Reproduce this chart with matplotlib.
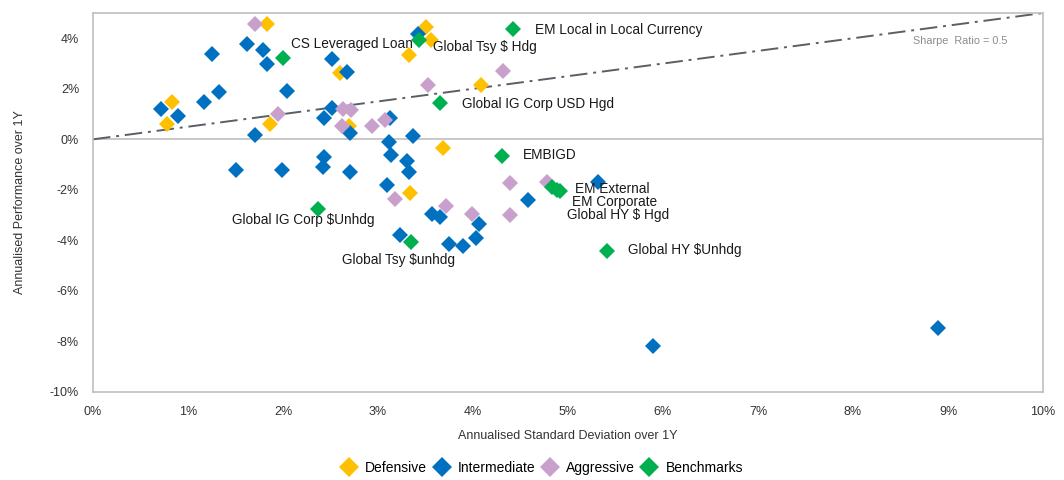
import matplotlib
matplotlib.use("Agg")
import matplotlib.pyplot as plt
from matplotlib.lines import Line2D
from matplotlib.ticker import FuncFormatter, MultipleLocator

plt.rcParams['font.family'] = ['Liberation Sans', 'DejaVu Sans']

# Annualised std dev (%) and annualised performance (%) over 1Y
defensive_x = [1.83, 0.83, 0.78, 1.86, 2.60, 3.51, 3.56, 3.33, 4.08, 2.69, 3.68, 3.34]
defensive_y = [4.56, 1.49, 0.61, 0.60, 2.62, 4.46, 3.93, 3.34, 2.15, 0.53, -0.33, -2.13]

intermediate_x = [1.62, 1.79, 1.83, 1.25, 1.33, 1.17, 0.72, 0.89, 2.04, 1.71, 2.52, 2.43,
                  2.52, 3.42, 2.67, 2.71, 3.13, 3.12, 3.37, 1.51, 1.99, 2.43, 2.42, 3.14,
                  3.31, 3.33, 2.71, 3.09, 3.57, 3.65, 4.06, 3.23, 3.75, 3.89, 4.03, 4.58,
                  5.32, 5.89, 8.89]
intermediate_y = [3.76, 3.54, 2.98, 3.37, 1.89, 1.49, 1.22, 0.93, 1.93, 0.17, 3.19, 0.84,
                  1.23, 4.17, 2.68, 0.25, 0.84, -0.09, 0.14, -1.21, -1.21, -0.70, -1.10, -0.61,
                  -0.85, -1.30, -1.30, -1.80, -2.94, -3.08, -3.34, -3.77, -4.13, -4.24, -3.91, -2.39,
                  -1.67, -8.19, -7.46]

aggressive_x = [1.71, 1.95, 4.32, 3.53, 2.63, 2.72, 2.62, 2.94, 3.07, 3.18, 3.72, 3.99,
                4.39, 4.39, 4.78]
aggressive_y = [4.56, 1.00, 2.71, 2.15, 1.19, 1.17, 0.51, 0.51, 0.77, -2.36, -2.63, -2.94,
                -1.73, -2.98, -1.67]

benchmark_names = ["CS Leveraged Loan", "Global Tsy $ Hdg", "EM Local in Local Currency",
                   "Global IG Corp USD Hgd", "Global IG Corp $Unhdg", "EMBIGD",
                   "Global Tsy $unhdg", "EM External", "EM Corporate", "Global HY $ Hgd",
                   "Global HY $Unhdg"]
benchmark_x = [2.00, 3.43, 4.42, 3.65, 2.37, 4.31, 3.35, 4.83, 4.88, 4.92, 5.41]
benchmark_y = [3.23, 3.93, 4.36, 1.45, -2.75, -0.64, -4.08, -1.87, -2.00, -2.06, -4.40]

# label offsets (points) relative to each benchmark marker
label_offsets = [(6, 10), (10, -5), (16, -0.5), (16, -1), (-62, -8), (15, 0.5),
                 (-50, -12.5), (17, -1.5), (11, -9), (5, -17), (15, 0.5)]

sharpe_ratio = 0.5

colors = {"Defensive": "#FFC000", "Intermediate": "#0070C0",
          "Aggressive": "#C9A0CC", "Benchmarks": "#00B050"}

fig = plt.figure(figsize=(10.64, 4.8), dpi=100)
ax = fig.add_axes([93 / 1064, 1 - 392 / 480, 950 / 1064, 379 / 480])

ax.set_xlim(0, 10)
ax.set_ylim(-10, 5)

# Sharpe ratio reference line
xs = [0, 10]
ax.plot(xs, [sharpe_ratio * v for v in xs], color="#595F66", lw=1.4,
        dashes=(9, 3, 1.5, 3), zorder=2)
ax.text(0.963, 0.926, "Sharpe  Ratio = 0.5", transform=ax.transAxes, ha="right",
        va="center", fontsize=7.8, color="#8C8C8C")

ax.axhline(0, color="#BFBFBF", lw=1.2, zorder=1)

ms = 8.5
ax.plot(defensive_x, defensive_y, ls="none", marker="D", ms=ms, mew=0,
        color=colors["Defensive"], zorder=3)
ax.plot(intermediate_x, intermediate_y, ls="none", marker="D", ms=ms, mew=0,
        color=colors["Intermediate"], zorder=3)
ax.plot(aggressive_x, aggressive_y, ls="none", marker="D", ms=ms, mew=0,
        color=colors["Aggressive"], zorder=3)
ax.plot(benchmark_x, benchmark_y, ls="none", marker="D", ms=ms, mew=0,
        color=colors["Benchmarks"], zorder=4)

for name, x, y, off in zip(benchmark_names, benchmark_x, benchmark_y, label_offsets):
    ax.annotate(name, (x, y), xytext=off, textcoords="offset points",
                fontsize=9.8, color="#1A1A1A", va="center", ha="left",
                parse_math=False, zorder=5)

for s in ax.spines.values():
    s.set_color("#BFBFBF")
    s.set_linewidth(1.2)

ax.xaxis.set_major_locator(MultipleLocator(1))
ax.xaxis.set_major_formatter(FuncFormatter(lambda v, p: f"{v:.0f}%"))
ax.yaxis.set_major_formatter(FuncFormatter(lambda v, p: f"{v:.0f}%"))
ax.set_yticks(range(-10, 5, 2))
ax.tick_params(length=0, labelsize=9, colors="#333333", pad=10)

ax.set_xlabel("Annualised Standard Deviation over 1Y", fontsize=9, color="#333333", labelpad=9)
ax.set_ylabel("Annualised Performance over 1Y", fontsize=9, color="#333333", labelpad=17)

handles = [Line2D([], [], ls="none", marker="D", ms=10, mew=0, color=c)
           for c in colors.values()]
fig.legend(handles, list(colors.keys()), loc="center", bbox_to_anchor=(0.510, 1 - 468 / 480),
           ncol=4, frameon=False, fontsize=10, handletextpad=0.65, columnspacing=0.55,
           handlelength=1.0)

fig.savefig("out.png", dpi=100)
